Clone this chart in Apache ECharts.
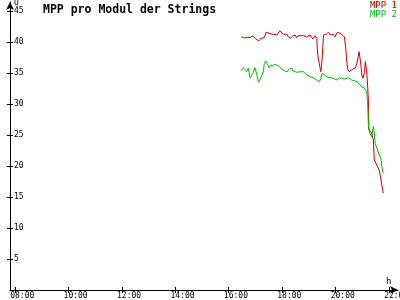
<!DOCTYPE html>
<html>
<head>
<meta charset="utf-8">
<script src="https://cdn.jsdelivr.net/npm/echarts@6/dist/echarts.min.js"></script>
<style>html,body{margin:0;padding:0;background:#fff}#c{width:400px;height:300px}</style>
</head>
<body>
<div id="c"></div>
<script>
var seriesNames = ['MPP 1', 'MPP 2'];
var xTickHours = [8, 10, 12, 14, 16, 18, 20, 22];
var yTickValues = [5, 10, 15, 20, 25, 30, 35, 40, 45];

var mpp1Times = ['16:28','16:33','16:37','16:40','16:44','16:49','16:54','16:59','17:03','17:08','17:12','17:16','17:20','17:24','17:27','17:31','17:34','17:39','17:42','17:48','17:51','17:55','17:59','18:03','18:06','18:10','18:14','18:19','18:24','18:29','18:33','18:36','18:40','18:48','18:55','19:03','19:09','19:14','19:18','19:19','19:21','19:24','19:27','19:30','19:33','19:39','19:44','19:49','19:55','19:59','20:04','20:10','20:15','20:20','20:23','20:25','20:27','20:30','20:34','20:39','20:44','20:48','20:51','20:53','20:57','20:59','21:02','21:05','21:07','21:08','21:10','21:12','21:14','21:15','21:17','21:20','21:25','21:27','21:31','21:35','21:38','21:41','21:44','21:46','21:47'];
var mpp1Values = [40.85,40.69,40.48,40.69,40.48,40.76,40.97,40.60,40.48,40.16,40.60,40.85,40.69,41.56,41.82,41.40,41.66,41.24,41.56,41.13,41.40,41.82,41.56,41.24,41.02,41.24,40.85,40.60,40.97,41.13,40.69,41.02,41.0,41.02,40.85,41.13,40.48,41.02,40.60,39.03,37.37,36.29,35.21,37.37,41.13,41.24,41.56,41.13,41.24,40.85,41.56,41.40,41.13,40.85,38.98,37.10,35.76,35.21,35.48,35.65,35.76,36.56,37.63,38.44,36.29,34.68,34.15,35.21,36.82,37.10,35.21,33.06,30.37,25.8,25.8,25.5,24.2,21.0,20.4,20.2,19.35,18.27,16.9,16.1,15.6];

var mpp2Times = ['16:28','16:33','16:37','16:40','16:44','16:48','16:52','16:55','16:59','17:03','17:07','17:10','17:14','17:18','17:20','17:23','17:27','17:31','17:34','17:39','17:44','17:48','17:51','17:55','17:59','18:03','18:06','18:12','18:16','18:22','18:25','18:29','18:33','18:36','18:40','18:48','18:55','19:03','19:10','19:18','19:24','19:27','19:30','19:34','19:40','19:48','19:55','20:03','20:09','20:14','20:21','20:29','20:36','20:44','20:49','20:53','20:59','21:04','21:08','21:10','21:12','21:14','21:17','21:21','21:25','21:27','21:29','21:33','21:36','21:38','21:42','21:44','21:47'];
var mpp2Values = [35.37,35.85,35.65,35.21,35.76,34.24,34.68,35.05,35.85,34.79,33.50,33.87,34.56,35.21,36.56,36.94,36.40,35.85,36.29,36.18,36.40,36.56,36.18,36.29,35.65,35.85,35.32,35.21,35.65,35.76,35.32,35.21,35.11,35.32,35.2,35.21,34.68,34.40,34.24,33.87,33.60,34.15,34.95,34.68,34.40,34.24,34.15,33.87,34.24,34.15,34.03,34.24,33.87,33.71,33.60,33.18,32.79,32.63,32.53,31.98,30.37,26.34,25.27,24.73,26.34,25.27,23.66,22.85,22.58,21.77,21.24,19.89,18.82];

function toHours(s) { var p = s.split(':'); return (+p[0]) + (+p[1]) / 60; }
function pairs(times, vals) { return times.map(function (t, i) { return [toHours(t), vals[i]]; }); }
function pad(n) { return (n < 10 ? '0' : '') + n; }

var FONT = 'DejaVu Sans Mono';
var xMin = 7.813, xMax = 22.339, yMin = 0, yMax = 46.45;
var red = '#cc0000', green = '#00bb00';

var chart = echarts.init(document.getElementById('c'), null, {renderer: 'canvas'});
chart.setOption({
  animation: false,
  backgroundColor: '#ffffff',
  title: {
    text: 'MPP pro Modul der Strings', left: 38, top: -1,
    textStyle: {fontFamily: FONT, fontWeight: 'bold', fontSize: 11.5, color: '#000'}
  },
  legend: {
    orient: 'vertical', right: 3, top: 1, itemWidth: 0, itemHeight: 0, itemGap: 0, padding: 0,
    icon: 'none',
    data: [
      {name: seriesNames[0], textStyle: {color: red}},
      {name: seriesNames[1], textStyle: {color: green}}
    ],
    textStyle: {fontFamily: FONT, fontSize: 9, lineHeight: 9, padding: [0, 0, 0, 0]}
  },
  graphic: [
    {type: 'text', left: 14, top: -1, style: {text: 'U', font: '8px ' + FONT, fill: '#000'}},
    {type: 'text', left: 386, top: 277, style: {text: 'h', font: '9px ' + FONT, fill: '#000'}}
  ],
  grid: {left: 10, right: 2, top: 2, bottom: 10, containLabel: false, outerBoundsMode: 'none'},
  xAxis: [{
    type: 'value', min: xMin, max: xMax,
    axisLine: {lineStyle: {color: '#000', width: 1}, symbol: ['none', 'arrow'], symbolSize: [6, 8]},
    axisTick: {show: true, inside: false, length: 3, lineStyle: {color: '#000'}, customValues: xTickHours},
    axisLabel: {show: true, customValues: xTickHours, margin: 2, align: 'center', fontFamily: FONT, fontSize: 8, color: '#000',
      hideOverlap: false, showMaxLabel: true,
      formatter: function (v) { return '   ' + pad(Math.round(v)) + ':00'; }},
    splitLine: {show: false}
  }, {
    type: 'value', min: xMin, max: xMax, position: 'bottom',
    axisLine: {show: false},
    axisTick: {show: true, inside: true, length: 3, lineStyle: {color: '#000'}, customValues: xTickHours},
    axisLabel: {show: false}, splitLine: {show: false}
  }],
  yAxis: [{
    type: 'value', min: yMin, max: yMax,
    axisLine: {show: true, lineStyle: {color: '#000', width: 1}, symbol: ['none', 'arrow'], symbolSize: [6, 8]},
    axisTick: {show: true, inside: false, length: 3, lineStyle: {color: '#000'}, customValues: yTickValues},
    axisLabel: {show: true, inside: true, margin: 4, customValues: yTickValues, fontFamily: FONT, fontSize: 8, color: '#000'},
    splitLine: {show: false}
  }, {
    type: 'value', min: yMin, max: yMax, position: 'left',
    axisLine: {show: false},
    axisTick: {show: true, inside: true, length: 3, lineStyle: {color: '#000'}, customValues: yTickValues},
    axisLabel: {show: false}, splitLine: {show: false}
  }],
  series: [
    {name: seriesNames[0], type: 'line', data: pairs(mpp1Times, mpp1Values), showSymbol: false,
      lineStyle: {color: red, width: 1}, itemStyle: {color: red}},
    {name: seriesNames[1], type: 'line', data: pairs(mpp2Times, mpp2Values), showSymbol: false,
      lineStyle: {color: green, width: 1}, itemStyle: {color: green}}
  ]
});
</script>
</body>
</html>
